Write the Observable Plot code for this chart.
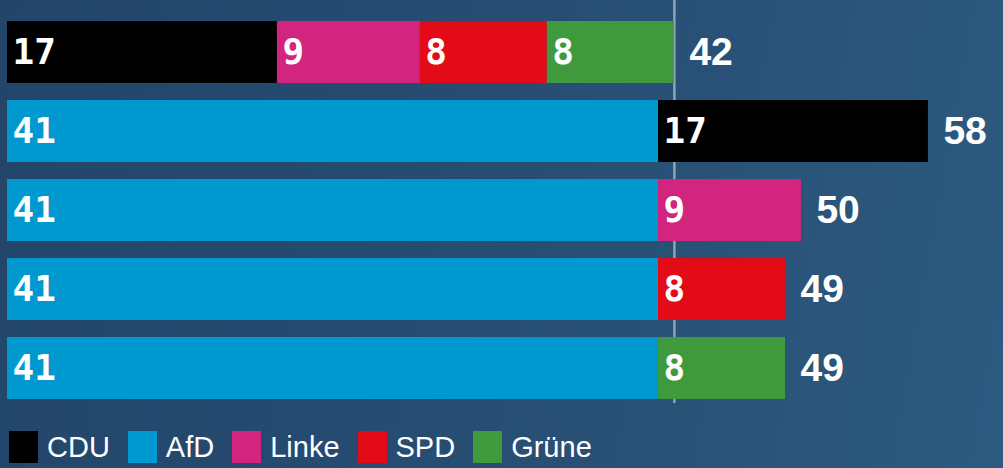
<!DOCTYPE html>
<html>
<head>
<meta charset="utf-8">
<script src="https://cdn.jsdelivr.net/npm/d3@7"></script>
<script src="https://cdn.jsdelivr.net/npm/@observablehq/plot@0.6"></script>
<style>
  html, body { margin: 0; padding: 0; }
  body {
    width: 1003px; height: 468px; overflow: hidden;
    background: linear-gradient(100deg, #23456a 0%, #274d72 50%, #2d5a80 100%);
  }
  #chart svg { display: block; background: transparent; }
  #chart svg g.seglabels text { font-family: "DejaVu Sans Mono", monospace !important; }
  #chart svg g.totlabels text { font-family: "Liberation Sans", Arial, sans-serif !important; }
  #legend {
    display: flex; align-items: flex-start; height: 58px;
    font-family: "Liberation Sans", Arial, sans-serif; font-size: 29px; color: #ffffff;
    padding-left: 9px; padding-top: 21px; box-sizing: border-box;
  }
  .item { display: flex; align-items: center; margin-right: 18px; height: 32px; }
  .sw { width: 29px; height: 32px; margin-right: 9px; }
</style>
</head>
<body>
<div id="chart"></div>
<div id="legend"></div>
<script>
// Data
const rows = ["Regierung", "AfD+CDU", "AfD+Linke", "AfD+SPD", "AfD+Grüne"];
const parties = ["CDU", "AfD", "Linke", "SPD", "Grüne"];
const partyColors = ["#000000", "#0099cf", "#d2257f", "#e30b17", "#3f9a3d"];
const rowParties = [
  ["CDU", "Linke", "SPD", "Grüne"],
  ["AfD", "CDU"],
  ["AfD", "Linke"],
  ["AfD", "SPD"],
  ["AfD", "Grüne"]
];
const rowSeats = [
  [17, 9, 8, 8],
  [41, 17],
  [41, 9],
  [41, 8],
  [41, 8]
];
const majority = 42;

const segments = [];
rows.forEach((r, i) => rowParties[i].forEach((p, j) => segments.push({row: r, party: p, value: rowSeats[i][j]})));
const totals = rows.map((r, i) => ({row: r, total: d3.sum(rowSeats[i])}));

const chart = Plot.plot({
  width: 1003,
  height: 410,
  marginTop: 0,
  marginBottom: 7,
  marginLeft: 7,
  marginRight: 0,
  style: {fontFamily: "DejaVu Sans Mono", background: "transparent"},
  x: {domain: [0, 41], range: [7, 658], axis: null},
  y: {domain: rows, range: [20, 399], paddingInner: 0.22, paddingOuter: 0, axis: null},
  color: {domain: parties, range: partyColors},
  marks: [
    Plot.ruleX([majority], {stroke: "#8ea3ba", strokeWidth: 2.5}),
    Plot.barX(segments, Plot.stackX({x: "value", y: "row", fill: "party", order: null})),
    Plot.text(segments, Plot.stackX1({
      x: "value", y: "row", text: d => String(d.value), order: null,
      textAnchor: "start", dx: 5, fill: "white",
      fontFamily: "DejaVu Sans Mono", fontWeight: "bold", fontSize: 36
    })),
    Plot.text(totals, {
      x: "total", y: "row", text: d => String(d.total),
      textAnchor: "start", dx: 15, fill: "white",
      fontFamily: "Liberation Sans", fontWeight: "bold", fontSize: 39
    })
  ]
});
chart.setAttribute("font-family", "DejaVu Sans Mono");
const textEls = Array.from(chart.querySelectorAll("text"));
const groups = Array.from(new Set(textEls.map(t => t.parentNode)));
if (groups[0]) groups[0].classList.add("seglabels");
if (groups[1]) groups[1].classList.add("totlabels");
document.getElementById("chart").appendChild(chart);

const legend = document.getElementById("legend");
parties.forEach((p, i) => {
  const it = document.createElement("div");
  it.className = "item";
  const sw = document.createElement("div");
  sw.className = "sw";
  sw.style.background = partyColors[i];
  const t = document.createElement("span");
  t.textContent = p;
  it.appendChild(sw); it.appendChild(t);
  legend.appendChild(it);
});
</script>
</body>
</html>
